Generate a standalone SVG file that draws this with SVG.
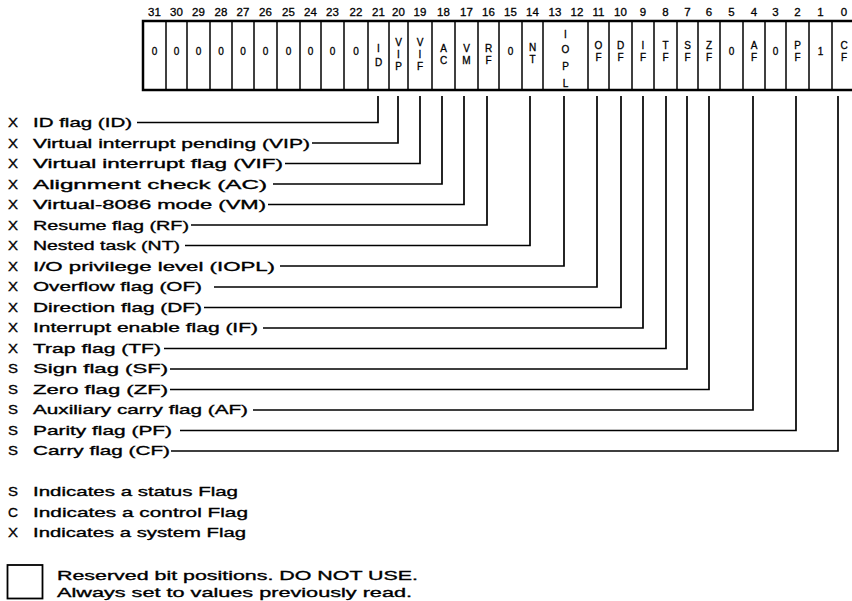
<svg xmlns="http://www.w3.org/2000/svg" width="852" height="601" viewBox="0 0 852 601">
<style>
  text { font-family: "Liberation Sans", Arial, sans-serif; fill: #000; }
  .num { font-size: 11.5px; text-anchor: middle; stroke: #000; stroke-width: 0.3; }
  .cell { font-size: 10px; text-anchor: middle; stroke: #000; stroke-width: 0.3; }
  .lbl { font-size: 13.5px; stroke: #000; stroke-width: 0.35; }
  .reg { fill: #fff; stroke: #000; stroke-width: 2.5; }
  .div { stroke: #000; stroke-width: 1.5; }
  .conn { fill: none; stroke: #000; stroke-width: 1.7; }
  .box { fill: #fff; stroke: #000; stroke-width: 1.8; }
</style>

<!-- bit numbers -->
<g id="bit-numbers">
  <text class="num" x="154.5" y="16">31</text>
  <text class="num" x="176.5" y="16">30</text>
  <text class="num" x="198.5" y="16">29</text>
  <text class="num" x="221" y="16">28</text>
  <text class="num" x="243" y="16">27</text>
  <text class="num" x="265.5" y="16">26</text>
  <text class="num" x="288.5" y="16">25</text>
  <text class="num" x="310.5" y="16">24</text>
  <text class="num" x="332.5" y="16">23</text>
  <text class="num" x="356" y="16">22</text>
  <text class="num" x="378.5" y="16">21</text>
  <text class="num" x="398.5" y="16">20</text>
  <text class="num" x="420" y="16">19</text>
  <text class="num" x="443.5" y="16">18</text>
  <text class="num" x="466.5" y="16">17</text>
  <text class="num" x="488.5" y="16">16</text>
  <text class="num" x="510.5" y="16">15</text>
  <text class="num" x="532.5" y="16">14</text>
  <text class="num" x="555" y="16">13</text>
  <text class="num" x="577" y="16">12</text>
  <text class="num" x="598.5" y="16">11</text>
  <text class="num" x="620.5" y="16">10</text>
  <text class="num" x="643" y="16">9</text>
  <text class="num" x="665.5" y="16">8</text>
  <text class="num" x="687.5" y="16">7</text>
  <text class="num" x="709" y="16">6</text>
  <text class="num" x="731.5" y="16">5</text>
  <text class="num" x="754" y="16">4</text>
  <text class="num" x="775.5" y="16">3</text>
  <text class="num" x="797.5" y="16">2</text>
  <text class="num" x="820.5" y="16">1</text>
  <text class="num" x="844" y="16">0</text>
</g>

<!-- register -->
<g id="register">
  <rect class="reg" x="143" y="21" width="714" height="69"/>
  <g class="div">
    <line x1="166" y1="21" x2="166" y2="90"/>
    <line x1="187" y1="21" x2="187" y2="90"/>
    <line x1="210" y1="21" x2="210" y2="90"/>
    <line x1="232" y1="21" x2="232" y2="90"/>
    <line x1="254" y1="21" x2="254" y2="90"/>
    <line x1="277" y1="21" x2="277" y2="90"/>
    <line x1="300" y1="21" x2="300" y2="90"/>
    <line x1="321" y1="21" x2="321" y2="90"/>
    <line x1="344" y1="21" x2="344" y2="90"/>
    <line x1="368" y1="21" x2="368" y2="90"/>
    <line x1="389" y1="21" x2="389" y2="90"/>
    <line x1="408" y1="21" x2="408" y2="90"/>
    <line x1="432" y1="21" x2="432" y2="90"/>
    <line x1="455" y1="21" x2="455" y2="90"/>
    <line x1="478" y1="21" x2="478" y2="90"/>
    <line x1="499" y1="21" x2="499" y2="90"/>
    <line x1="522" y1="21" x2="522" y2="90"/>
    <line x1="543" y1="21" x2="543" y2="90"/>
    <line x1="588" y1="21" x2="588" y2="90"/>
    <line x1="609" y1="21" x2="609" y2="90"/>
    <line x1="632" y1="21" x2="632" y2="90"/>
    <line x1="654" y1="21" x2="654" y2="90"/>
    <line x1="677" y1="21" x2="677" y2="90"/>
    <line x1="698" y1="21" x2="698" y2="90"/>
    <line x1="720" y1="21" x2="720" y2="90"/>
    <line x1="743" y1="21" x2="743" y2="90"/>
    <line x1="765" y1="21" x2="765" y2="90"/>
    <line x1="786" y1="21" x2="786" y2="90"/>
    <line x1="809" y1="21" x2="809" y2="90"/>
    <line x1="832" y1="21" x2="832" y2="90"/>
  </g>
  <g id="reserved-bits">
    <text class="cell" x="154.5" y="55">0</text>
    <text class="cell" x="176.5" y="55">0</text>
    <text class="cell" x="198.5" y="55">0</text>
    <text class="cell" x="221" y="55">0</text>
    <text class="cell" x="243" y="55">0</text>
    <text class="cell" x="265.5" y="55">0</text>
    <text class="cell" x="288.5" y="55">0</text>
    <text class="cell" x="310.5" y="55">0</text>
    <text class="cell" x="332.5" y="55">0</text>
    <text class="cell" x="356" y="55">0</text>
    <text class="cell" x="510.5" y="55">0</text>
    <text class="cell" x="731.5" y="55">0</text>
    <text class="cell" x="775.5" y="55">0</text>
    <text class="cell" x="820.5" y="55">1</text>
  </g>
  <g id="field-ID"><text class="cell"><tspan x="378.5" y="52">I</tspan><tspan x="378.5" y="66">D</tspan></text></g>
  <g id="field-VIP"><text class="cell"><tspan x="398.5" y="46">V</tspan><tspan x="398.5" y="58">I</tspan><tspan x="398.5" y="70">P</tspan></text></g>
  <g id="field-VIF"><text class="cell"><tspan x="420" y="46">V</tspan><tspan x="420" y="58">I</tspan><tspan x="420" y="70">F</tspan></text></g>
  <g id="field-AC"><text class="cell"><tspan x="443.5" y="52">A</tspan><tspan x="443.5" y="64">C</tspan></text></g>
  <g id="field-VM"><text class="cell"><tspan x="466.5" y="52">V</tspan><tspan x="466.5" y="64">M</tspan></text></g>
  <g id="field-RF"><text class="cell"><tspan x="488.5" y="52">R</tspan><tspan x="488.5" y="64">F</tspan></text></g>
  <g id="field-NT"><text class="cell"><tspan x="532.5" y="51">N</tspan><tspan x="532.5" y="63">T</tspan></text></g>
  <g id="field-IOPL"><text class="cell"><tspan x="565.5" y="38">I</tspan><tspan x="565.5" y="53">O</tspan><tspan x="565.5" y="70">P</tspan><tspan x="565.5" y="87">L</tspan></text></g>
  <g id="field-OF"><text class="cell"><tspan x="598.5" y="49">O</tspan><tspan x="598.5" y="61">F</tspan></text></g>
  <g id="field-DF"><text class="cell"><tspan x="620.5" y="49">D</tspan><tspan x="620.5" y="61">F</tspan></text></g>
  <g id="field-IF"><text class="cell"><tspan x="643" y="49">I</tspan><tspan x="643" y="61">F</tspan></text></g>
  <g id="field-TF"><text class="cell"><tspan x="665.5" y="49">T</tspan><tspan x="665.5" y="61">F</tspan></text></g>
  <g id="field-SF"><text class="cell"><tspan x="687.5" y="49">S</tspan><tspan x="687.5" y="61">F</tspan></text></g>
  <g id="field-ZF"><text class="cell"><tspan x="709" y="49">Z</tspan><tspan x="709" y="61">F</tspan></text></g>
  <g id="field-AF"><text class="cell"><tspan x="754" y="49">A</tspan><tspan x="754" y="61">F</tspan></text></g>
  <g id="field-PF"><text class="cell"><tspan x="797.5" y="49">P</tspan><tspan x="797.5" y="61">F</tspan></text></g>
  <g id="field-CF"><text class="cell"><tspan x="844" y="49">C</tspan><tspan x="844" y="61">F</tspan></text></g>
</g>

<!-- labels -->
<g id="label-ID"><text class="lbl" x="8" y="127" textLength="10" lengthAdjust="spacingAndGlyphs">X</text><text class="lbl" x="33" y="127" textLength="99" lengthAdjust="spacingAndGlyphs">ID flag (ID)</text></g>
<g id="label-VIP"><text class="lbl" x="8" y="147.5" textLength="10" lengthAdjust="spacingAndGlyphs">X</text><text class="lbl" x="33" y="147.5" textLength="277" lengthAdjust="spacingAndGlyphs">Virtual interrupt pending (VIP)</text></g>
<g id="label-VIF"><text class="lbl" x="8" y="168" textLength="10" lengthAdjust="spacingAndGlyphs">X</text><text class="lbl" x="33" y="168" textLength="250" lengthAdjust="spacingAndGlyphs">Virtual interrupt flag (VIF)</text></g>
<g id="label-AC"><text class="lbl" x="8" y="188.5" textLength="10" lengthAdjust="spacingAndGlyphs">X</text><text class="lbl" x="33" y="188.5" textLength="234" lengthAdjust="spacingAndGlyphs">Alignment check (AC)</text></g>
<g id="label-VM"><text class="lbl" x="8" y="209" textLength="10" lengthAdjust="spacingAndGlyphs">X</text><text class="lbl" x="33" y="209" textLength="233" lengthAdjust="spacingAndGlyphs">Virtual-8086 mode (VM)</text></g>
<g id="label-RF"><text class="lbl" x="8" y="229.5" textLength="10" lengthAdjust="spacingAndGlyphs">X</text><text class="lbl" x="33" y="229.5" textLength="156" lengthAdjust="spacingAndGlyphs">Resume flag (RF)</text></g>
<g id="label-NT"><text class="lbl" x="8" y="250" textLength="10" lengthAdjust="spacingAndGlyphs">X</text><text class="lbl" x="33" y="250" textLength="147" lengthAdjust="spacingAndGlyphs">Nested task (NT)</text></g>
<g id="label-IOPL"><text class="lbl" x="8" y="270.5" textLength="10" lengthAdjust="spacingAndGlyphs">X</text><text class="lbl" x="33" y="270.5" textLength="242" lengthAdjust="spacingAndGlyphs">I/O privilege level (IOPL)</text></g>
<g id="label-OF"><text class="lbl" x="8" y="291" textLength="10" lengthAdjust="spacingAndGlyphs">X</text><text class="lbl" x="33" y="291" textLength="169" lengthAdjust="spacingAndGlyphs">Overflow flag (OF)</text></g>
<g id="label-DF"><text class="lbl" x="8" y="311.5" textLength="10" lengthAdjust="spacingAndGlyphs">X</text><text class="lbl" x="33" y="311.5" textLength="169" lengthAdjust="spacingAndGlyphs">Direction flag (DF)</text></g>
<g id="label-IF"><text class="lbl" x="8" y="332" textLength="10" lengthAdjust="spacingAndGlyphs">X</text><text class="lbl" x="33" y="332" textLength="225" lengthAdjust="spacingAndGlyphs">Interrupt enable flag (IF)</text></g>
<g id="label-TF"><text class="lbl" x="8" y="352.5" textLength="10" lengthAdjust="spacingAndGlyphs">X</text><text class="lbl" x="33" y="352.5" textLength="128" lengthAdjust="spacingAndGlyphs">Trap flag (TF)</text></g>
<g id="label-SF"><text class="lbl" x="8" y="373" textLength="10" lengthAdjust="spacingAndGlyphs">S</text><text class="lbl" x="33" y="373" textLength="135" lengthAdjust="spacingAndGlyphs">Sign flag (SF)</text></g>
<g id="label-ZF"><text class="lbl" x="8" y="393.5" textLength="10" lengthAdjust="spacingAndGlyphs">S</text><text class="lbl" x="33" y="393.5" textLength="135" lengthAdjust="spacingAndGlyphs">Zero flag (ZF)</text></g>
<g id="label-AF"><text class="lbl" x="8" y="414" textLength="10" lengthAdjust="spacingAndGlyphs">S</text><text class="lbl" x="33" y="414" textLength="215" lengthAdjust="spacingAndGlyphs">Auxiliary carry flag (AF)</text></g>
<g id="label-PF"><text class="lbl" x="8" y="434.5" textLength="10" lengthAdjust="spacingAndGlyphs">S</text><text class="lbl" x="33" y="434.5" textLength="139" lengthAdjust="spacingAndGlyphs">Parity flag (PF)</text></g>
<g id="label-CF"><text class="lbl" x="8" y="455" textLength="10" lengthAdjust="spacingAndGlyphs">S</text><text class="lbl" x="33" y="455" textLength="137" lengthAdjust="spacingAndGlyphs">Carry flag (CF)</text></g>

<!-- connectors -->
<g id="connectors" class="conn">
  <polyline points="137,122.5 378,122.5 378,96"/>
  <polyline points="312,143 398,143 398,96"/>
  <polyline points="285,163.5 420,163.5 420,96"/>
  <polyline points="273,184 442,184 442,96"/>
  <polyline points="268,204.5 464,204.5 464,96"/>
  <polyline points="191,225 487,225 487,96"/>
  <polyline points="185,245.5 530,245.5 530,96"/>
  <polyline points="280,266 564,266 564,96"/>
  <polyline points="214,287 597,287 597,96"/>
  <polyline points="204,307.5 621,307.5 621,96"/>
  <polyline points="263,328 643,328 643,96"/>
  <polyline points="164,348.5 666,348.5 666,96"/>
  <polyline points="170,369 687,369 687,96"/>
  <polyline points="170,389.5 709,389.5 709,96"/>
  <polyline points="253,410 753,410 753,96"/>
  <polyline points="180,430.5 796,430.5 796,96"/>
  <polyline points="171,451 838,451 838,96"/>
</g>

<!-- legend -->
<g id="legend">
  <text class="lbl" x="8" y="496" textLength="10" lengthAdjust="spacingAndGlyphs">S</text>
  <text class="lbl" x="33" y="496" textLength="205" lengthAdjust="spacingAndGlyphs">Indicates a status Flag</text>
  <text class="lbl" x="8" y="516.5" textLength="10" lengthAdjust="spacingAndGlyphs">C</text>
  <text class="lbl" x="33" y="516.5" textLength="215" lengthAdjust="spacingAndGlyphs">Indicates a control Flag</text>
  <text class="lbl" x="8" y="537" textLength="10" lengthAdjust="spacingAndGlyphs">X</text>
  <text class="lbl" x="33" y="537" textLength="213" lengthAdjust="spacingAndGlyphs">Indicates a system Flag</text>
</g>
<g id="reserved-legend">
  <rect class="box" x="7.5" y="565" width="35" height="33.5"/>
  <text class="lbl" x="57" y="580" textLength="361" lengthAdjust="spacingAndGlyphs">Reserved bit positions. DO NOT USE.</text>
  <text class="lbl" x="57" y="597" textLength="355" lengthAdjust="spacingAndGlyphs">Always set to values previously read.</text>
</g>
</svg>
